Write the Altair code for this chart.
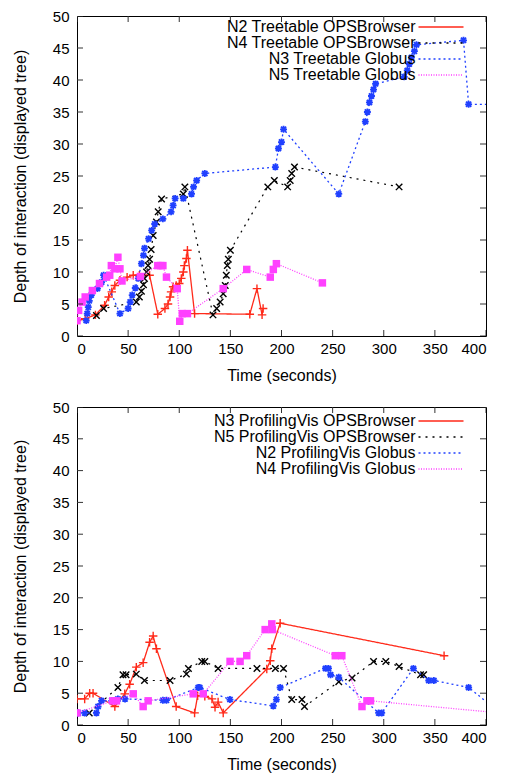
import altair as alt
import pandas as pd

FONT = "Liberation Sans"

# ---------------- Top panel: Treetable ----------------
top_names = ["N2 Treetable OPSBrowser", "N4 Treetable OPSBrowser",
             "N3 Treetable Globus", "N5 Treetable Globus"]

top_n2_x = [0, 8, 18, 27, 31, 34, 37, 42, 49, 55, 61, 71, 79, 86, 89, 91, 92, 94, 97, 100,
            102, 104, 105, 107, 108, 115, 169, 176, 181, 182]
top_n2_y = [2.4, 2.7, 3.3, 4.8, 6.1, 6.9, 7.9, 8.7, 9.2, 9.5, 9.5, 9.5, 3.4, 4.3, 5.0, 6.1, 6.9,
            7.7, 7.9, 8.2, 9.0, 10.0, 11.0, 12.1, 13.4, 3.5, 3.4, 7.4, 3.3, 4.3]

top_n4_x = [19, 26, 58, 61, 63, 65, 66, 68, 69.5, 71, 72.5, 74.5, 77.7, 79.4, 82.7, 104, 105.5,
            133, 136.6, 140, 143, 145, 146, 147, 148, 150, 186.6, 193, 206, 208.5, 210, 212.7, 315]
top_n4_y = [3.2, 4.3, 5.3, 6.1, 7.0, 8.0, 9.0, 10.0, 11.0, 12.0, 13.5, 15.7, 17.8, 19.4, 21.4,
            22.2, 23.3, 3.3, 4.3, 5.3, 6.6, 7.9, 9.5, 11.0, 12.0, 13.4, 23.3, 24.3, 23.3, 24.3,
            25.4, 26.4, 23.3]

top_n3_x = [9, 10, 11, 12, 14, 20, 24, 26, 42, 50, 52, 54, 57, 60, 63, 65, 66, 70, 73, 76, 84,
            92, 94, 96, 104, 112, 114, 117, 125, 194, 197, 200, 202, 256, 282, 284, 286, 288,
            290, 292, 320, 323, 325, 327, 330, 332, 378, 383, 420]
top_n3_y = [2.4, 3.5, 4.5, 5.5, 6.4, 7.4, 8.4, 9.5, 3.5, 4.3, 5.3, 6.4, 7.5, 9.0, 11.3, 12.6,
            13.7, 15.2, 16.5, 17.5, 18.3, 19.4, 20.4, 21.5, 21.5, 22.2, 23.3, 24.3, 25.4, 26.4,
            29.3, 30.3, 32.3, 22.2, 33.5, 35.0, 36.5, 37.5, 38.5, 39.4, 40.5, 41.5, 42.5, 43.5,
            44.5, 45.5, 46.2, 36.2, 36.2]

top_n5_x = [0, 1.6, 5, 8, 15, 22, 29, 32, 33.6, 37, 40, 42, 44, 62, 79, 82, 84, 87.5, 98, 100.5,
            103, 108, 143, 166, 189, 192, 195, 240]
top_n5_y = [2.4, 4.0, 5.3, 6.1, 7.1, 8.2, 9.2, 9.5, 11.0, 10.5, 12.3, 10.5, 8.6, 9.3, 11.0, 11.0,
            11.0, 9.2, 7.4, 2.3, 3.5, 3.5, 7.4, 10.4, 9.2, 10.4, 11.3, 8.3]

# ---------------- Bottom panel: ProfilingVis ----------------
bot_names = ["N3 ProfilingVis OPSBrowser", "N5 ProfilingVis OPSBrowser",
             "N2 ProfilingVis Globus", "N4 ProfilingVis Globus"]

bot_n3_x = [0, 7.5, 12.4, 15.7, 37, 46.7, 51.5, 58, 64.7, 71, 74.5, 77.7, 97, 115, 118, 125,
            132, 135, 138, 143, 185.6, 189, 190.5, 198.7, 359]
bot_n3_y = [4.1, 4.1, 5.0, 5.0, 2.9, 4.9, 6.4, 9.1, 9.8, 13.0, 14.0, 12.0, 2.9, 1.9, 4.6, 4.5,
            4.1, 2.8, 3.6, 1.9, 8.8, 10.1, 12.0, 16.0, 10.9]

bot_n5_x = [12, 40, 45, 48, 58, 66, 91, 107, 109, 122, 125, 138, 176, 194, 202, 210, 220, 222.5,
            256, 269, 290, 302, 315, 336, 339]
bot_n5_y = [1.9, 5.9, 7.9, 7.9, 8.0, 7.0, 7.0, 8.0, 8.9, 10.0, 10.0, 8.9, 8.9, 8.9, 8.9, 4.0,
            4.0, 2.9, 6.8, 7.4, 10.0, 10.0, 9.2, 7.9, 7.9]

bot_n2_x = [1, 7.5, 19, 20.6, 24, 34, 40, 47, 84, 87.5, 118.6, 120, 149.6, 192, 195, 198.7, 243,
            246, 248, 256, 295, 298, 329, 344, 349, 383, 410]
bot_n2_y = [1.9, 1.9, 1.9, 2.9, 3.8, 3.8, 4.1, 4.1, 3.9, 3.9, 5.9, 5.9, 4.0, 3.0, 4.0, 5.9, 8.9,
            8.9, 7.9, 7.5, 1.9, 1.9, 8.9, 7.0, 7.0, 5.9, 2.4]

bot_n4_x = [0, 35, 38.6, 55, 64.7, 69.6, 113.7, 123.5, 149.7, 159.5, 166, 184, 190.5, 191, 252.6,
            259, 278.7, 283.6, 287, 420]
bot_n4_y = [1.9, 3.8, 3.8, 4.9, 2.9, 3.8, 4.9, 4.9, 10.0, 10.0, 10.9, 15.0, 15.9, 15.0, 10.9,
            10.9, 2.9, 3.8, 3.8, 1.8]

x_ticks = [0, 50, 100, 150, 200, 250, 300, 350, 400]
y_ticks = [0, 5, 10, 15, 20, 25, 30, 35, 40, 45, 50]

# ---------------- styles ----------------
COLORS = ["#ff2a1a", "#000000", "#2040ff", "#ff40ff"]
DASHES = [[1, 0], [2, 5], [2, 3], [1, 1.5]]
LWIDTH = [1.3, 1.2, 1.3, 1.3]
PLUS = "M-1,0L1,0M0,-1L0,1"
XMARK = "M-1,-1L1,1M-1,1L1,-1"
STAR = "M-1,0L1,0M0,-1L0,1M-0.75,-0.75L0.75,0.75M-0.75,0.75L0.75,-0.75"
W = 409


def make_df(field, name, xs, ys):
    return pd.DataFrame({"t": xs, "depth": ys, field: [name] * len(xs), "i": list(range(len(xs)))})


def panel(names, xs_list, ys_list, H, field, legend_y):
    xscale = alt.Scale(domain=[0, 400], nice=False, zero=False)
    yscale = alt.Scale(domain=[0, 50], nice=False)
    cscale = alt.Scale(domain=names, range=COLORS)
    dscale = alt.Scale(domain=names, range=DASHES)
    legend = alt.Legend(title=None, orient="none", legendX=356, legendY=legend_y,
                        symbolType="M-5,0L5,0", symbolSize=81, symbolStrokeWidth=1.3,
                        labelAlign="right", labelOffset={"expr": "-33.5"}, labelLimit=400,
                        labelFont=FONT, labelFontSize=16, labelColor="black",
                        rowPadding={"expr": "-0.7"}, padding=0)
    main_x = alt.Axis(orient="bottom", values=x_ticks, ticks=False, domain=False, grid=False,
                      labelPadding=5, title="Time (seconds)", titlePadding=11)
    main_y = alt.Axis(orient="left", values=y_ticks, ticks=False, domain=False, grid=False,
                      labelPadding=8, title="Depth of interaction (displayed tree)",
                      titlePadding=24)
    layers = []
    first = True
    for idx, (name, xs, ys) in enumerate(zip(names, xs_list, ys_list)):
        df = make_df(field, name, xs, ys)
        for kind in ("line", "point"):
            xenc = alt.X("t:Q", scale=xscale, axis=main_x if first else None)
            yenc = alt.Y("depth:Q", scale=yscale, axis=main_y if first else None)
            first = False
            if kind == "line":
                layer = alt.Chart(df).mark_line(strokeWidth=LWIDTH[idx], clip=True).encode(
                    x=xenc, y=yenc,
                    color=alt.Color(f"{field}:N", scale=cscale, legend=legend),
                    strokeDash=alt.StrokeDash(f"{field}:N", scale=dscale, legend=legend),
                    order=alt.Order("i:Q"),
                )
            else:
                if idx == 3:
                    mk = alt.Chart(df).mark_point(shape="square", filled=True, size=56,
                                                  color=COLORS[idx], opacity=1, clip=True)
                else:
                    shape = [PLUS, XMARK, STAR][idx]
                    size = [72, 42, 48][idx]
                    sw = [1.4, 1.4, 1.8][idx]
                    mk = alt.Chart(df).mark_point(shape=shape, filled=False, size=size,
                                                  stroke=COLORS[idx], strokeWidth=sw,
                                                  opacity=1, clip=True)
                layer = mk.encode(x=xenc, y=yenc)
            layers.append(layer)

    # gnuplot-style inward tick marks on all four borders (outer half of each tick is clipped)
    ytick_df = pd.DataFrame({"v": y_ticks})
    xtick_df = pd.DataFrame({"v": x_ticks})
    for edge in (0, 400):
        layers.append(
            alt.Chart(ytick_df).mark_tick(orient="horizontal", size=12, thickness=1,
                                          color="#333", opacity=1, clip=True).encode(
                y=alt.Y("v:Q", scale=yscale, axis=None),
                x=alt.XDatum(edge, type="quantitative", scale=xscale, axis=None),
            )
        )
    for edge in (0, 50):
        layers.append(
            alt.Chart(xtick_df).mark_tick(orient="vertical", size=12, thickness=1,
                                          color="#333", opacity=1, clip=True).encode(
                x=alt.X("v:Q", scale=xscale, axis=None),
                y=alt.YDatum(edge, type="quantitative", scale=yscale, axis=None),
            )
        )
    return alt.layer(*layers).resolve_axis(x="independent", y="independent").properties(
        width=W, height=H)


top = panel(top_names, [top_n2_x, top_n4_x, top_n3_x, top_n5_x],
            [top_n2_y, top_n4_y, top_n3_y, top_n5_y], 320, "series_top", 3)
bottom = panel(bot_names, [bot_n3_x, bot_n5_x, bot_n2_x, bot_n4_x],
               [bot_n3_y, bot_n5_y, bot_n2_y, bot_n4_y], 318, "series_bot", 6)

chart = alt.vconcat(top, bottom, spacing=15).resolve_scale(
    color="independent", strokeDash="independent"
).resolve_legend(color="independent", strokeDash="independent").properties(
    padding={"left": 3, "top": 0, "right": 5, "bottom": 0},
    background="white",
).configure_view(stroke="black", strokeWidth=1).configure_axis(
    labelFont=FONT, titleFont=FONT, labelFontSize=15, titleFontSize=16,
    titleFontWeight="normal", labelColor="black", titleColor="black"
)

chart.save("out.html", embed_options={"renderer": "svg", "actions": False})
